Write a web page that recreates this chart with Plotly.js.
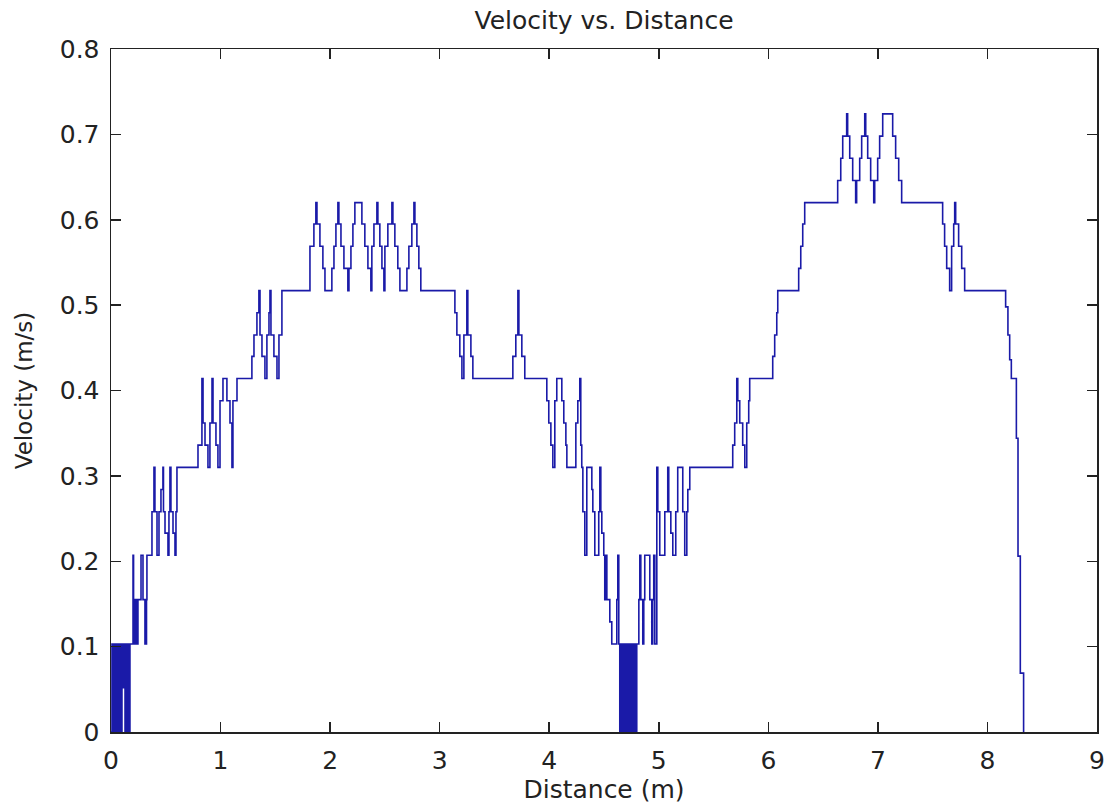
<!DOCTYPE html>
<html>
<head>
<meta charset="utf-8">
<script src="https://cdn.plot.ly/plotly-3.0.1.min.js"></script>
<style>html,body{margin:0;padding:0;background:#fff;}#chart{width:1111px;height:807px;}</style>
</head>
<body>
<div id="chart"></div>
<script>
// Distance (m), in order along the trace
const distance = [
  0, 0.009, 0.018, 0.027, 0.036, 0.046, 0.055, 0.064, 0.073, 0.082, 0.091, 0.100, 0.109, 0.118, 0.128, 0.137, 0.146, 0.155, 0.164, 0.173,
  0.201, 0.206, 0.212, 0.219, 0.225, 0.232, 0.238, 0.246, 0.274, 0.292, 0.310, 0.324, 0.328,
  0.374, 0.392, 0.401, 0.420, 0.438, 0.456, 0.474, 0.479, 0.493, 0.520, 0.529, 0.538, 0.547, 0.566, 0.584, 0.593, 0.602,
  0.794, 0.830, 0.840, 0.858, 0.885, 0.903, 0.922, 0.931, 0.958, 0.976, 0.995, 1.022, 1.058, 1.086, 1.104, 1.113, 1.150,
  1.286, 1.305, 1.332, 1.350, 1.360, 1.378, 1.405, 1.423, 1.442, 1.451, 1.460, 1.487, 1.515, 1.533, 1.560,
  1.816, 1.852, 1.870, 1.880, 1.907, 1.934, 1.953, 2.016, 2.035, 2.053, 2.071, 2.080, 2.099, 2.126, 2.162,
  2.172, 2.190, 2.208, 2.226, 2.290, 2.317, 2.345, 2.372, 2.381, 2.400, 2.427, 2.436, 2.454, 2.473, 2.491,
  2.500, 2.527, 2.564, 2.573, 2.591, 2.618, 2.637, 2.701, 2.719, 2.746, 2.765, 2.774, 2.792, 2.810, 2.828,
  3.139, 3.157, 3.184, 3.203, 3.221, 3.248, 3.257, 3.285, 3.303, 3.668, 3.695, 3.714, 3.723, 3.750, 3.777,
  3.978, 3.996, 4.015, 4.033, 4.051, 4.069, 4.115, 4.133, 4.152, 4.161, 4.243, 4.261, 4.279, 4.288,
  4.297, 4.307, 4.325, 4.343, 4.389, 4.398, 4.416, 4.452, 4.462, 4.471, 4.480, 4.498, 4.507, 4.517, 4.526, 4.553, 4.571, 4.617, 4.626, 4.635, 4.644,
  4.653, 4.662, 4.671, 4.680, 4.690, 4.699, 4.708, 4.717, 4.726, 4.735, 4.744, 4.753, 4.762, 4.772, 4.781, 4.790,
  4.799, 4.818, 4.827, 4.836, 4.854, 4.863, 4.872, 4.918, 4.936, 4.945, 4.954, 4.964, 4.982, 4.991, 5.009, 5.055, 5.082, 5.091, 5.110, 5.128, 5.155, 5.173, 5.219, 5.237, 5.256, 5.265, 5.283,
  5.675, 5.693, 5.712, 5.721, 5.739, 5.766, 5.785, 5.803, 5.821, 5.830, 6.040, 6.058, 6.077, 6.086, 6.277, 6.296, 6.314, 6.332,
  6.633, 6.661, 6.679, 6.715, 6.724, 6.743, 6.770, 6.797, 6.806, 6.834, 6.852, 6.880, 6.889, 6.907, 6.934, 6.962, 6.971, 6.998, 7.016, 7.044, 7.135, 7.162, 7.190, 7.217,
  7.591, 7.609, 7.628, 7.655, 7.673, 7.692, 7.701, 7.710, 7.737, 7.765, 7.792, 8.166, 8.187, 8.203, 8.218, 8.264, 8.279, 8.300, 8.330
];

// Velocity (m/s) at each of those points
const velocity = [
  0, 0.103, 0, 0.103, 0, 0.103, 0, 0.103, 0, 0.103, 0, 0.103, 0.052, 0.103, 0, 0.103, 0, 0.103, 0, 0.103,
  0.207, 0.155, 0.103, 0.155, 0.103, 0.155, 0.103, 0.155, 0.207, 0.155, 0.103, 0.155, 0.207,
  0.258, 0.310, 0.258, 0.207, 0.258, 0.284, 0.310, 0.258, 0.233, 0.207, 0.258, 0.310, 0.258, 0.233, 0.207, 0.258, 0.310,
  0.336, 0.414, 0.362, 0.336, 0.310, 0.362, 0.414, 0.362, 0.336, 0.310, 0.388, 0.414, 0.388, 0.362, 0.310, 0.388, 0.414,
  0.440, 0.465, 0.491, 0.517, 0.465, 0.440, 0.414, 0.465, 0.491, 0.517, 0.465, 0.440, 0.414, 0.465, 0.517,
  0.569, 0.595, 0.620, 0.595, 0.569, 0.543, 0.517, 0.543, 0.569, 0.595, 0.620, 0.595, 0.569, 0.543, 0.517,
  0.543, 0.569, 0.595, 0.620, 0.595, 0.569, 0.543, 0.517, 0.569, 0.595, 0.620, 0.595, 0.569, 0.543, 0.517,
  0.569, 0.595, 0.620, 0.595, 0.569, 0.543, 0.517, 0.543, 0.569, 0.595, 0.620, 0.595, 0.569, 0.543, 0.517,
  0.491, 0.465, 0.440, 0.414, 0.465, 0.517, 0.465, 0.440, 0.414, 0.440, 0.465, 0.517, 0.465, 0.440, 0.414,
  0.388, 0.362, 0.336, 0.310, 0.388, 0.414, 0.388, 0.362, 0.336, 0.310, 0.362, 0.388, 0.414, 0.336,
  0.310, 0.258, 0.207, 0.310, 0.284, 0.258, 0.207, 0.258, 0.310, 0.258, 0.233, 0.207, 0.155, 0.207, 0.155, 0.129, 0.103, 0.155, 0.207, 0.103, 0,
  0.103, 0, 0.103, 0, 0.103, 0, 0.103, 0, 0.103, 0, 0.103, 0, 0.103, 0, 0.103, 0,
  0.103, 0.155, 0.207, 0.155, 0.103, 0.155, 0.207, 0.155, 0.103, 0.155, 0.207, 0.103, 0.310, 0.258, 0.207, 0.258, 0.310, 0.258, 0.233, 0.207, 0.258, 0.310, 0.258, 0.207, 0.258, 0.284, 0.310,
  0.336, 0.362, 0.414, 0.388, 0.362, 0.336, 0.310, 0.362, 0.388, 0.414, 0.440, 0.465, 0.491, 0.517, 0.543, 0.569, 0.595, 0.620,
  0.646, 0.672, 0.698, 0.724, 0.698, 0.672, 0.646, 0.620, 0.646, 0.672, 0.698, 0.724, 0.698, 0.672, 0.646, 0.620, 0.646, 0.672, 0.698, 0.724, 0.698, 0.672, 0.646, 0.620,
  0.595, 0.569, 0.543, 0.517, 0.569, 0.595, 0.620, 0.595, 0.569, 0.543, 0.517, 0.498, 0.465, 0.436, 0.414, 0.344, 0.206, 0.069, 0
];

const xTicks = [0, 1, 2, 3, 4, 5, 6, 7, 8, 9];
const yTicks = [0, 0.1, 0.2, 0.3, 0.4, 0.5, 0.6, 0.7, 0.8];
const yTickText = ['0', '0.1', '0.2', '0.3', '0.4', '0.5', '0.6', '0.7', '0.8'];

const FONT = 'DejaVu Sans, Liberation Sans, Arial, sans-serif';
const INK = '#222222';

const trace = {
  type: 'scatter',
  mode: 'lines',
  x: distance,
  y: velocity,
  line: {color: '#1a1aa8', width: 1.6, shape: 'hv'},
  hoverinfo: 'x+y'
};

const axisCommon = {
  showline: true, linecolor: INK, linewidth: 1.5,
  mirror: 'ticks', ticks: 'inside', ticklen: 10, tickwidth: 1.5, tickcolor: INK,
  showgrid: false, zeroline: false, automargin: false,
  tickfont: {family: FONT, size: 25, color: INK}
};

const layout = {
  width: 1111, height: 807,
  margin: {l: 111, r: 14, t: 49, b: 75},
  paper_bgcolor: '#ffffff', plot_bgcolor: '#ffffff',
  showlegend: false,
  title: {text: 'Velocity vs. Distance', font: {family: FONT, size: 25, color: INK},
          x: 0.5, xref: 'paper', xanchor: 'center', y: 0.975, yref: 'container', yanchor: 'middle'},
  xaxis: Object.assign({}, axisCommon, {
    range: [0, 9], tickvals: xTicks, ticktext: xTicks.map(String),
    ticklabelstandoff: 5,
    title: {text: 'Distance (m)', font: {family: FONT, size: 25, color: INK}, standoff: 6}
  }),
  yaxis: Object.assign({}, axisCommon, {
    range: [0, 0.8], tickvals: yTicks, ticktext: yTickText,
    ticklabelstandoff: 5,
    title: {text: 'Velocity (m/s)', font: {family: FONT, size: 23, color: INK}, standoff: 20}
  })
};

Plotly.newPlot('chart', [trace], layout, {staticPlot: true, displayModeBar: false});
</script>
</body>
</html>
